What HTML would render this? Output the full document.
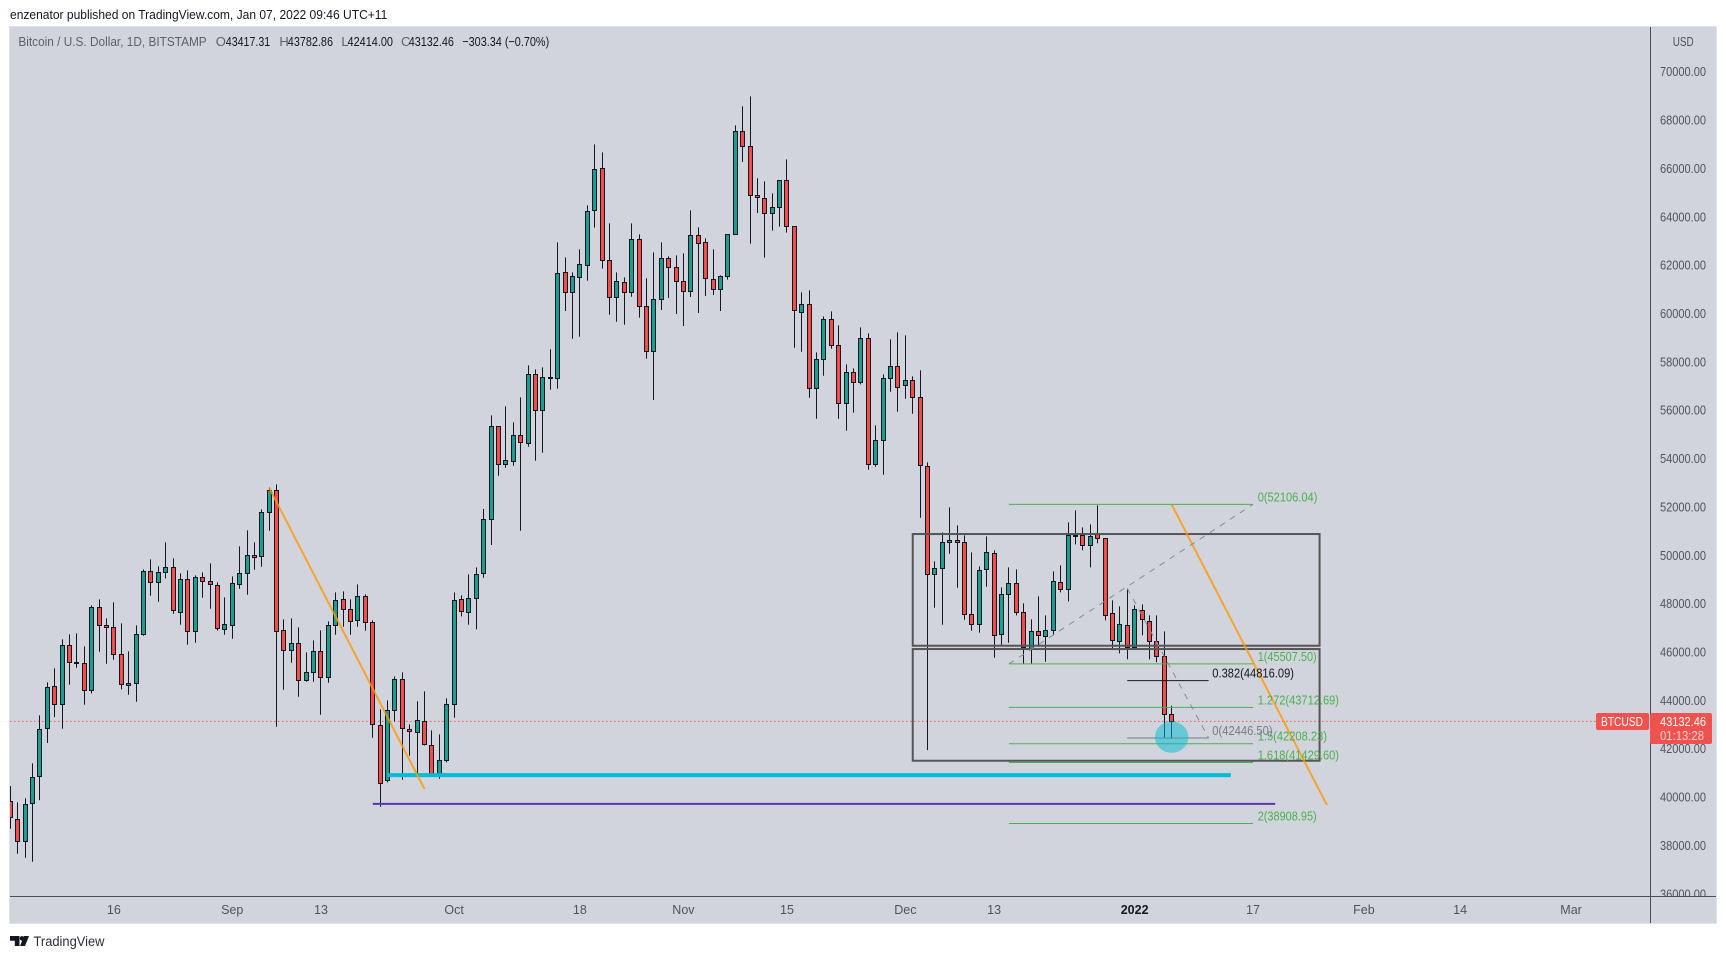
<!DOCTYPE html>
<html lang="en">
<head>
<meta charset="utf-8">
<title>BTCUSD 1D chart</title>
<style>
html,body{margin:0;padding:0;background:#fff;width:1726px;height:959px;overflow:hidden}
svg{display:block}
text{font-family:"Liberation Sans",sans-serif}
</style>
</head>
<body>
<svg id="chart" xmlns="http://www.w3.org/2000/svg" width="1726" height="959" viewBox="0 0 1726 959">
  <defs>
    <clipPath id="pane"><rect x="10" y="27" width="1640" height="869"/></clipPath>
    <clipPath id="axisClip"><rect x="1651" y="27" width="65" height="869"/></clipPath>
  </defs>
  <text x="10" y="19" font-size="13" fill="#131722" textLength="377.3" lengthAdjust="spacingAndGlyphs">enzenator published on TradingView.com, Jan 07, 2022 09:46 UTC+11</text>
  <rect x="9.5" y="26.5" width="1707" height="897" fill="#d1d4dc" stroke="#e0e3eb"/>
  <g id="dotted" clip-path="url(#pane)"></g>
  <g id="candles" clip-path="url(#pane)"></g>
  <g id="draw" clip-path="url(#pane)"></g>
  <line x1="1650.5" y1="27" x2="1650.5" y2="923" stroke="#4a4d5a"/>
  <line x1="10" y1="896.5" x2="1716" y2="896.5" stroke="#4a4d5a"/>
  <g id="ptick" clip-path="url(#axisClip)"></g>
  <g id="ttick"></g>

  <g font-size="13">
    <text x="18.4" y="46" fill="#5d606b" textLength="188.3" lengthAdjust="spacingAndGlyphs">Bitcoin / U.S. Dollar, 1D, BITSTAMP</text>
    <text x="215.8" y="46" fill="#5d606b">O</text>
    <text x="225.8" y="46" fill="#131722" textLength="44.4" lengthAdjust="spacingAndGlyphs">43417.31</text>
    <text x="279.4" y="46" fill="#5d606b">H</text>
    <text x="287.8" y="46" fill="#131722" textLength="45.2" lengthAdjust="spacingAndGlyphs">43782.86</text>
    <text x="341.4" y="46" fill="#5d606b">L</text>
    <text x="347.5" y="46" fill="#131722" textLength="45.5" lengthAdjust="spacingAndGlyphs">42414.00</text>
    <text x="401" y="46" fill="#5d606b">C</text>
    <text x="408.7" y="46" fill="#131722" textLength="45.2" lengthAdjust="spacingAndGlyphs">43132.46</text>
    <text x="462.3" y="46" fill="#131722" textLength="86.9" lengthAdjust="spacingAndGlyphs">−303.34 (−0.70%)</text>
  </g>
  <text x="1672.7" y="46" font-size="13" fill="#50535e" textLength="21" lengthAdjust="spacingAndGlyphs">USD</text>

  <rect x="1596" y="713" width="53" height="17" rx="2" fill="#ef5350"/>
  <text x="1601" y="726" font-size="13" fill="#fff" textLength="42" lengthAdjust="spacingAndGlyphs">BTCUSD</text>
  <rect x="1650" y="713" width="62" height="31" rx="2" fill="#ef5350"/>
  <text x="1660" y="726" font-size="13" fill="#fff" textLength="46" lengthAdjust="spacingAndGlyphs">43132.46</text>
  <text x="1660" y="740" font-size="13" fill="#fff" fill-opacity=".72" textLength="44" lengthAdjust="spacingAndGlyphs">01:13:28</text>

  <g>
    <path fill="#131722" d="M10 936h9.5v10h-4.7v-5.3H10zM24 936h5l-4 10h-5z"/>
    <circle cx="22" cy="938.4" r="2.3" fill="#131722"/>
    <text x="33.5" y="946" font-size="13.5" fill="#2a2e39" textLength="71" lengthAdjust="spacingAndGlyphs">TradingView</text>
  </g>
</svg>
<script>
const opens = [39850,39105,38168,39739,40856,42841,44606,43834,46274,45571,45530,44413,47846,47102,47019,45902,44620,44703,46729,49335,48880,49294,49501,47639,49004,46853,49087,48922,48756,46936,47102,48797,49252,49997,49956,51775,52685,46895,46068,46357,44827,45158,46026,44951,47102,48177,47763,47308,48301,47226,42966,40691,43586,44868,42800,42676,43131,42138,40980,41518,43834,48177,47639,48218,49252,51486,55332,53788,53912,54960,54629,57483,55994,57359,57345,61702,60875,61495,61991,64266,66003,62198,60668,61288,60875,63067,60296,58434,60585,62281,61909,61330,60916,63232,62943,61412,60999,61536,63274,67534,66913,64887,64763,64142,64390,65507,63604,60074,60378,56903,58103,59757,58682,56283,57565,57152,58971,53760,54753,57317,57813,57027,57234,56531,53677,49211,49459,50534,50617,50534,47556,47143,49417,50079,46729,48383,48838,47639,46109,46853,46646,46894,48880,48590,50810,50824,50410,50865,50700,47598,46440,47101,46191,47722,47267,46440,45819,43417.31];
const highs = [40456,39781,39946,41394,43379,44744,45323,46523,46729,46771,46233,47929,48177,47391,48053,47184,46026,47102,49418,49831,49542,50535,49873,49252,49377,49170,49294,49666,48880,48260,49128,50369,51031,50535,51900,52809,52934,47350,47391,47019,45985,46481,46895,47267,48467,48508,48177,48797,48384,47308,43627,44000,44992,45158,43007,43958,44372,42759,42593,44082,48467,48342,49211,49501,51913,55787,55332,56160,55498,56532,57856,57690,57773,58517,62943,62322,61702,62653,64473,66996,66665,63729,61702,61495,63729,63274,61454,62529,62943,62364,62405,62488,64266,63563,63108,62653,61578,63274,67782,68568,68981,65590,65466,64969,65507,66376,63604,60874,60957,58392,59881,60088,59509,57896,57731,59426,59178,55373,57482,58930,59220,59095,57400,57648,53843,49748,50948,51982,51237,50824,50121,49542,50782,50203,48673,49500,49417,48011,47349,48301,47515,49335,49583,51361,51858,51155,51279,52065,50700,48135,47887,48590,47928,47970,47515,47515,46853,43782.86];
const lows = [38692,37658,37492,37327,39877,42235,43310,42828,44648,45351,43820,44289,46012,45516,45682,44455,44234,43944,46674,48329,48081,49046,47584,47129,46302,46385,48246,47791,46881,46716,46550,48618,48370,49404,49528,51017,42910,44441,45558,44151,44772,44772,43407,44730,46716,47046,46716,47046,46881,42455,39602,40608,43131,40718,41711,40842,42138,40910,40760,41435,43283,47474,47129,46936,49073,50424,53292,53623,53706,51017,54491,53912,54243,56849,56890,60103,58958,59041,61357,63549,61854,59951,59661,59537,60695,59827,58131,56421,60144,60640,59979,59482,60682,60020,60723,60764,60103,61399,63274,66265,62888,64156,62309,63425,63591,63343,58586,58420,56517,55649,57427,58544,55649,55152,55897,57069,53539,53663,53333,56765,55938,56476,55855,51554,41945,47832,47129,50065,48659,47336,46881,46798,48701,45764,46302,46384,47515,45516,45516,46219,45598,46688,48466,48094,50451,50203,49500,50493,47308,46109,45943,45695,46191,46688,45695,45571,42427,42414];
const closes = [39160,38168,39726,40842,42828,44565,43834,46274,45571,45530,44413,47846,47102,47019,45902,44661,44703,46729,49335,48880,49294,49528,47722,49004,46853,49087,48922,48797,46978,47143,48839,49252,49997,49914,51775,52685,46853,46068,46357,44827,45158,46026,44951,47102,48136,47763,47267,48301,47226,43007,40567,43586,44868,42841,42717,43172,42180,40980,41518,43834,48136,47681,48218,49211,51486,55332,53761,53926,54960,54698,57483,55994,57359,57345,61661,60875,61536,62033,64225,65962,62198,60668,61330,60875,63067,60296,58434,60585,62281,61909,61330,60916,63232,62901,61454,60999,61536,63274,67534,66913,64887,64804,64142,64390,65507,63604,60130,60378,56903,58103,59757,58682,56283,57565,57152,58971,53760,54753,57317,57813,56945,57234,56531,53719,49211,49459,50534,50617,50534,47556,47143,49376,50121,46688,48383,48838,47639,46191,46853,46688,46894,48921,48590,50824,50824,50410,50782,50700,47515,46481,47143,46191,47763,47349,46440,45819,43420,43132.46];

const priceTicks = [70000,68000,66000,64000,62000,60000,58000,56000,54000,52000,50000,48000,46000,44000,42000,40000,38000,36000];
const timeTickBars = [14,30,42,60,77,91,105,121,133,152,168,183,196,211];
const timeTickLabels = ["16","Sep","13","Oct","18","Nov","15","Dec","13","2022","17","Feb","14","Mar"];

const lastPrice = 43132.46;
const fibPrices = [52106.04,45507.50,43712.69,42208.23,41429.60,38908.95];
const fibLabels = ["0(52106.04)","1(45507.50)","1.272(43712.69)","1.5(42208.23)","1.618(41429.60)","2(38908.95)"];
const fibLabelWidths = [59.7,59,81.3,69.3,81.3,59];
const fibBarStart = 135, fibBarEnd = 168;
const retrBarStart = 151, retrBarEnd = 162, retrHigh = 48634;
const retrPrices = [44816.09,42446.50];
const retrLabels = ["0.382(44816.09)","0(42446.50)"];
const retrColors = ["#131722","#787b86"];
const retrLabelWidths = [81.7,60.3];
const supportCyan = 40911, supportPurple = 39720;

const svgNS = "http://www.w3.org/2000/svg";
function X(i){ return 10.3 + 7.397*i; }
function Y(p){ return 71.7 + (70000-p)*0.02418; }
function make(parent, tag, attrs){
  const el = document.createElementNS(svgNS, tag);
  for (const k in attrs) el.setAttribute(k, attrs[k]);
  parent.appendChild(el);
  return el;
}

const gDotted = document.getElementById("dotted");
const dot = make(gDotted, "line", {x1:10,x2:1650,y1:Y(lastPrice),y2:Y(lastPrice),stroke:"#ef5350","stroke-width":1,"stroke-dasharray":"1.5 2.5"});



const gCandles = document.getElementById("candles");
for (let i = 0; i < opens.length; i++) {
  const px = Math.floor(X(i)) + 0.5;
  const up = closes[i] >= opens[i];
  const top = Math.round(Y(Math.max(opens[i], closes[i]))) + 0.5;
  const bot = Math.round(Y(Math.min(opens[i], closes[i]))) + 0.5;
  const wick = make(gCandles, "line", {x1:px,x2:px,y1:Y(highs[i]),y2:Y(lows[i]),stroke:"#131722","stroke-width":1});
  
  
  const body = make(gCandles, "rect", {x:px-2,y:top,width:4,height:Math.max(bot-top,1),fill:up?"#1a9e8e":"#f44c46",stroke:"#131722","stroke-width":1});
  
  
}

const gDraw = document.getElementById("draw");

const boxTop = make(gDraw, "rect", {x:X(122),y:Y(50880),width:X(177)-X(122),height:Y(46260)-Y(50880),fill:"none",stroke:"#555","stroke-width":2});


const boxBot = make(gDraw, "rect", {x:X(122),y:Y(46123),width:X(177)-X(122),height:Y(41503)-Y(46123),fill:"none",stroke:"#555","stroke-width":2});



const cyan = make(gDraw, "line", {x1:X(51),x2:X(165),y1:Y(supportCyan),y2:Y(supportCyan),stroke:"#00bcd4","stroke-width":4});


const purple = make(gDraw, "line", {x1:X(49),x2:X(171),y1:Y(supportPurple),y2:Y(supportPurple),stroke:"#5e35a8","stroke-width":2});



const orange1 = make(gDraw, "line", {x1:X(35),y1:Y(52796),x2:X(56),y2:Y(40332),stroke:"#ff9800","stroke-opacity":.8,"stroke-width":2});


const orange2 = make(gDraw, "line", {x1:X(157),y1:Y(52106),x2:X(178),y2:Y(39670),stroke:"#ff9800","stroke-opacity":.8,"stroke-width":2});



const dash1 = make(gDraw, "line", {x1:X(fibBarStart),y1:Y(fibPrices[1]),x2:X(fibBarEnd),y2:Y(fibPrices[0]),stroke:"#878a94","stroke-width":1,"stroke-dasharray":"6 6"});


const dash2 = make(gDraw, "line", {x1:X(retrBarStart),y1:Y(retrHigh),x2:X(retrBarEnd),y2:Y(retrPrices[1]),stroke:"#878a94","stroke-width":1,"stroke-dasharray":"6 6"});



for (let i = 0; i < fibPrices.length; i++) {
  const y = Y(fibPrices[i]);
  const ln = make(gDraw, "line", {x1:X(fibBarStart),x2:X(fibBarEnd),y1:y,y2:y,stroke:"#4caf50","stroke-width":1});
  
  
  const tx = make(gDraw, "text", {x:1257.7,y:y-3,"font-size":13,fill:"#4caf50",textLength:fibLabelWidths[i],lengthAdjust:"spacingAndGlyphs"});
  tx.textContent = fibLabels[i];
  
  
}
for (let i = 0; i < retrPrices.length; i++) {
  const y = Y(retrPrices[i]);
  const ln = make(gDraw, "line", {x1:X(retrBarStart),x2:X(retrBarEnd),y1:y,y2:y,stroke:retrColors[i],"stroke-width":1});
  
  
  const tx = make(gDraw, "text", {x:1212.3,y:y-3,"font-size":13,fill:retrColors[i],textLength:retrLabelWidths[i],lengthAdjust:"spacingAndGlyphs"});
  tx.textContent = retrLabels[i];
  
  
}

const circ = make(gDraw, "ellipse", {cx:X(157),cy:Y(42480),rx:16.7,ry:15.7,fill:"#00bcd4","fill-opacity":.5});



const gP = document.getElementById("ptick");
for (let i = 0; i < priceTicks.length; i++) {
  const t = make(gP, "text", {x:1660,y:Y(priceTicks[i])+4.5,"font-size":13,fill:"#50535e",textLength:46,lengthAdjust:"spacingAndGlyphs"});
  t.textContent = priceTicks[i].toFixed(2);
  
  
}
const gT = document.getElementById("ttick");
for (let i = 0; i < timeTickBars.length; i++) {
  const label = timeTickLabels[i];
  const bold = label === "2022";
  const t = make(gT, "text", {x:X(timeTickBars[i]),y:914,"font-size":12.5,"text-anchor":"middle",fill:bold?"#131722":"#50535e","font-weight":bold?"bold":"normal"});
  t.textContent = label;
  
  
}
</script>
</body>
</html>
